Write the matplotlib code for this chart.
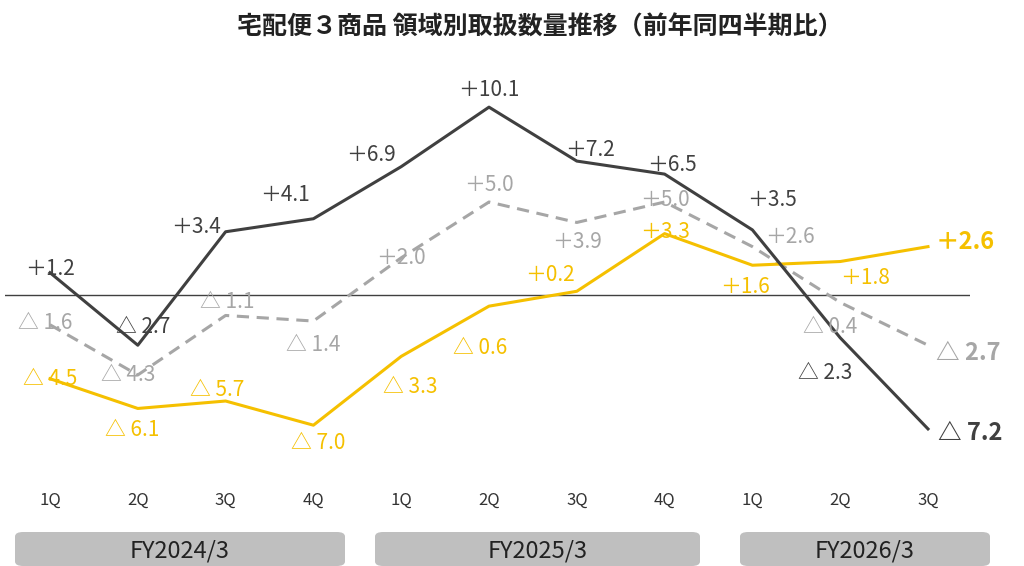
import matplotlib
matplotlib.use("Agg")
import matplotlib.pyplot as plt
from matplotlib.patches import FancyBboxPatch

plt.rcParams['font.family'] = ['Noto Sans CJK JP', 'DejaVu Sans']

quarters = ["1Q","2Q","3Q","4Q","1Q","2Q","3Q","4Q","1Q","2Q","3Q"]
fy_labels = ["FY2024/3","FY2025/3","FY2026/3"]
dark = [1.2,-2.7,3.4,4.1,6.9,10.1,7.2,6.5,3.5,-2.3,-7.2]
gray = [-1.6,-4.3,-1.1,-1.4,2.0,5.0,3.9,5.0,2.6,-0.4,-2.7]
yellow = [-4.5,-6.1,-5.7,-7.0,-3.3,-0.6,0.2,3.3,1.6,1.8,2.6]

off_dark = [(0,-4),(5,-18),(-30,-5),(-28,-24),(-30,-12),(0,-17),(13,-11),(7,-9),(20,-30),(-15,35),(42,4)]
off_gray = [(-5,-2),(-10,0),(2,-13),(0,24),(0,0),(0,-17),(0,20),(0,-2),(38,-10),(-10,25),(40,8)]
off_yel = [(0,0),(-6,22),(-8,-11),(5,18),(9,31),(-9,42),(-27,-16),(0,-2),(-7,22),(25,16),(37,-5)]

C_DARK, C_GRAY, C_YEL = "#404040", "#a6a6a6", "#f5c000"

fig = plt.figure(figsize=(10.24,5.66), dpi=100)
sp = 87.8
x0 = -(50-5)/sp
x1 = (970-50)/sp
ax = fig.add_axes([5/1024, (566-470)/566, 965/1024, 410/566])
ax.set_xlim(x0, x1)
ax.set_ylim(-(470-295)/18.6, (295-60)/18.6)
ax.axis('off')
ax.axhline(0, color="#404040", lw=1)
xs = list(range(len(quarters)))
ax.plot(xs, gray, color=C_GRAY, lw=2.2, ls=(0,(4,2.5)))
ax.plot(xs, yellow, color=C_YEL, lw=2.2)
ax.plot(xs, dark, color=C_DARK, lw=2.2)

def lab(v):
    return ("＋" if v > 0 else "△ ") + f"{abs(v):.1f}"

for vals, offs, col in [(gray, off_gray, C_GRAY), (yellow, off_yel, C_YEL), (dark, off_dark, C_DARK)]:
    for i, (v, o) in enumerate(zip(vals, offs)):
        last = i == len(vals)-1
        ax.annotate(lab(v), (i, v), xytext=(o[0], -o[1]), textcoords='offset pixels',
                    ha='center', va='center', color=col, fontsize=17 if last else 15,
                    fontweight='bold' if last else 'normal')

for i, q in enumerate(quarters):
    ax.text(i, -(500-295)/18.6, q, ha='center', va='center', fontsize=12, color="#333333", clip_on=False)

bars = [(15,345),(375,700),(740,990)]
for (l, r), t in zip(bars, fy_labels):
    p = FancyBboxPatch((l/1024, 0), (r-l)/1024, 34/566, boxstyle="round,pad=0,rounding_size=0.008",
                       transform=fig.transFigure, facecolor="#bfbfbf", edgecolor="none")
    fig.patches.append(p)
    fig.text((l+r)/2/1024, 15/566, t, ha='center', va='center', fontsize=17, color="#222222")

fig.text(540/1024, 1-27/566, "宅配便３商品 領域別取扱数量推移（前年同四半期比）", ha='center', va='center',
         fontsize=18, fontweight='bold', color="#222222")
fig.savefig("out.png", dpi=100)
